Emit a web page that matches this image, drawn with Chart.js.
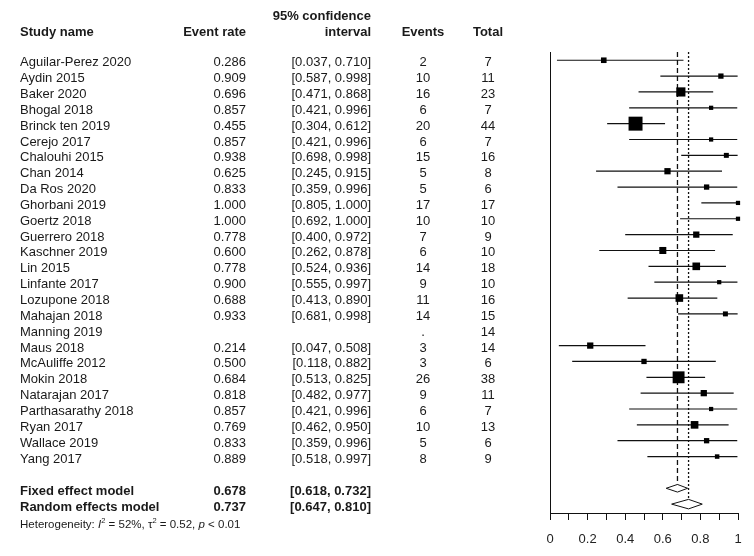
<!DOCTYPE html>
<html lang="en">
<head>
<meta charset="UTF-8">
<title>Forest plot</title>
<style>
  body { margin: 0; background: #fff; font-family: "Liberation Sans", Arial, sans-serif; color: #1a1a1a; }
  .wrap { position: relative; width: 754px; height: 556px; overflow: hidden; }
  #forest { position: absolute; left: 0; top: 0; }
  .cell { position: absolute; font-size: 13px; line-height: 15px; white-space: nowrap; transform: translateY(-50%); }
  .b { font-weight: bold; }
  .r { text-align: right; }
  .c { text-align: center; }
  .het { font-size: 11.5px; }
  .het sup { font-size: 7.5px; position: relative; top: -1px; }
</style>
</head>
<body>
<div class="wrap" id="wrap">
  <canvas id="forest" width="754" height="556"></canvas>
</div>

<script src="https://cdn.jsdelivr.net/npm/chart.js"></script>
<script>
// study rows, top to bottom
const studies = ['Aguilar-Perez 2020', 'Aydin 2015', 'Baker 2020', 'Bhogal 2018', 'Brinck ten 2019',
  'Cerejo 2017', 'Chalouhi 2015', 'Chan 2014', 'Da Ros 2020', 'Ghorbani 2019', 'Goertz 2018',
  'Guerrero 2018', 'Kaschner 2019', 'Lin 2015', 'Linfante 2017', 'Lozupone 2018', 'Mahajan 2018',
  'Manning 2019', 'Maus 2018', 'McAuliffe 2012', 'Mokin 2018', 'Natarajan 2017', 'Parthasarathy 2018',
  'Ryan 2017', 'Wallace 2019', 'Yang 2017'];
const rates = [0.286, 0.909, 0.696, 0.857, 0.455, 0.857, 0.938, 0.625, 0.833, 1.000, 1.000, 0.778, 0.600,
  0.778, 0.900, 0.688, 0.933, null, 0.214, 0.500, 0.684, 0.818, 0.857, 0.769, 0.833, 0.889];
const lower = [0.037, 0.587, 0.471, 0.421, 0.304, 0.421, 0.698, 0.245, 0.359, 0.805, 0.692, 0.400, 0.262,
  0.524, 0.555, 0.413, 0.681, null, 0.047, 0.118, 0.513, 0.482, 0.421, 0.462, 0.359, 0.518];
const upper = [0.710, 0.998, 0.868, 0.996, 0.612, 0.996, 0.998, 0.915, 0.996, 1.000, 1.000, 0.972, 0.878,
  0.936, 0.997, 0.890, 0.998, null, 0.508, 0.882, 0.825, 0.977, 0.996, 0.950, 0.996, 0.997];
const events = [2, 10, 16, 6, 20, 6, 15, 5, 5, 17, 10, 7, 6, 14, 9, 11, 14, null, 3, 3, 26, 9, 6, 10, 5, 8];
const totals = [7, 11, 23, 7, 44, 7, 16, 8, 6, 17, 10, 9, 10, 18, 10, 16, 15, 14, 14, 6, 38, 11, 7, 13, 6, 9];
// relative weight (%)
const weights = [2.8, 2.5, 7.5, 1.6, 17.4, 1.6, 2.2, 3.5, 2.5, 1.6, 1.6, 3.5, 4.4, 5.2, 1.6, 5.2, 2.2,
  0, 3.5, 2.5, 12.6, 3.5, 1.6, 5.2, 2.5, 1.8];

// pooled estimates
const modelNames = ['Fixed effect model', 'Random effects model'];
const modelRates = [0.678, 0.737];
const modelLower = [0.618, 0.647];
const modelUpper = [0.732, 0.810];

const xTicks = [0, 0.2, 0.4, 0.6, 0.8, 1];

const FONT = '"Liberation Sans", Arial, sans-serif';
const INK = '#111';
const modelRow = k => studies.length + 1 + k;
const diamondHalf = [0.24, 0.3];
const yTop = -0.52;

const datasets = [];

// squares (drawn on top)
datasets.push({
  data: rates.map((r, i) => r === null ? null : { x: r, y: i }).filter(p => p),
  pointStyle: 'rect',
  pointRadius: rates.map((r, i) => ({ r, w: weights[i] })).filter(o => o.r !== null)
    .map(o => 3.35 * Math.sqrt(o.w) / Math.SQRT2),
  backgroundColor: '#000',
  borderWidth: 0,
  clip: false,
  order: 0
});

// confidence interval lines
rates.forEach((r, i) => {
  if (r === null) return;
  datasets.push({
    data: [{ x: lower[i], y: i }, { x: upper[i], y: i }],
    showLine: true, borderColor: INK, borderWidth: 1.2, pointRadius: 0, clip: false, order: 1
  });
});

// diamonds
modelRates.forEach((m, k) => {
  const row = modelRow(k), h = diamondHalf[k];
  datasets.push({
    data: [{ x: modelLower[k], y: row }, { x: m, y: row - h }, { x: modelUpper[k], y: row },
           { x: m, y: row + h }, { x: modelLower[k], y: row }],
    showLine: true, borderColor: INK, borderWidth: 1, pointRadius: 0, fill: false, tension: 0, order: 1
  });
});

// reference lines: dashed = fixed, dotted = random
datasets.push({
  data: [{ x: modelRates[0], y: yTop }, { x: modelRates[0], y: modelRow(0) - diamondHalf[0] }],
  showLine: true, borderColor: INK, borderWidth: 1.3, borderDash: [5, 3], pointRadius: 0, order: 2
});
datasets.push({
  data: [{ x: modelRates[1], y: yTop }, { x: modelRates[1], y: modelRow(1) - diamondHalf[1] }],
  showLine: true, borderColor: INK, borderWidth: 1.3, borderDash: [2, 2], pointRadius: 0, order: 2
});

const chart = new Chart(document.getElementById('forest'), {
  type: 'scatter',
  data: { datasets },
  options: {
    responsive: false,
    animation: false,
    events: [],
    layout: { padding: { left: 550, right: 16, top: 52, bottom: 0 } },
    plugins: { legend: { display: false }, tooltip: { enabled: false } },
    scales: {
      x: {
        type: 'linear', min: 0, max: 1,
        ticks: {
          stepSize: 0.1, autoSkip: false, maxRotation: 0, padding: 12, color: '#222',
          font: { size: 13, family: FONT },
          callback: v => {
            const t = Math.round(v * 10) / 10;
            return xTicks.some(k => Math.abs(k - t) < 1e-9) ? String(t) : '';
          }
        },
        grid: { drawOnChartArea: false, drawTicks: true, tickLength: 7, color: INK, lineWidth: 1 },
        border: { display: true, color: INK, width: 1 },
        afterFit: s => { s.height = 43; }
      },
      y: {
        type: 'linear', reverse: true, min: yTop, max: 28.56,
        ticks: { display: false },
        grid: { display: false, drawTicks: false },
        border: { display: true, color: INK, width: 1 },
        afterFit: s => { s.width = 0; }
      }
    }
  }
});

// table text, placed on the same rows as the chart
const wrap = document.getElementById('wrap');
const yPix = row => chart.scales.y.getPixelForValue(row);

function cell(html, cls, left, width, top) {
  const d = document.createElement('div');
  d.className = 'cell ' + cls;
  d.innerHTML = html;
  d.style.left = left + 'px';
  if (width) d.style.width = width + 'px';
  d.style.top = top + 'px';
  wrap.appendChild(d);
}

const COL = { name: 20, rate: 146, ci: 261, ev: 393, tot: 458 };
const fmt = v => v.toFixed(3);

// header
cell('Study name', 'b', COL.name, 0, 31);
cell('Event rate', 'b r', COL.rate, 100, 31);
cell('95% confidence', 'b r', COL.ci, 110, 15);
cell('interval', 'b r', COL.ci, 110, 31);
cell('Events', 'b c', COL.ev, 60, 31);
cell('Total', 'b c', COL.tot, 60, 31);

studies.forEach((s, i) => {
  const y = yPix(i) + 1;
  cell(s, '', COL.name, 0, y);
  if (rates[i] !== null) {
    cell(fmt(rates[i]), 'r', COL.rate, 100, y);
    cell('[' + fmt(lower[i]) + ', ' + fmt(upper[i]) + ']', 'r', COL.ci, 110, y);
  }
  cell(events[i] === null ? '.' : String(events[i]), 'c', COL.ev, 60, y);
  cell(String(totals[i]), 'c', COL.tot, 60, y);
});

modelNames.forEach((m, k) => {
  const y = yPix(modelRow(k)) + 1.5;
  cell(m, 'b', COL.name, 0, y);
  cell(fmt(modelRates[k]), 'b r', COL.rate, 100, y);
  cell('[' + fmt(modelLower[k]) + ', ' + fmt(modelUpper[k]) + ']', 'b r', COL.ci, 110, y);
});

cell('Heterogeneity: <i>I</i><sup>2</sup> = 52%, \u03c4<sup>2</sup> = 0.52, <i>p</i> &lt; 0.01',
  'het', COL.name, 0, yPix(modelRow(2)) + 3);
</script>
</body>
</html>
